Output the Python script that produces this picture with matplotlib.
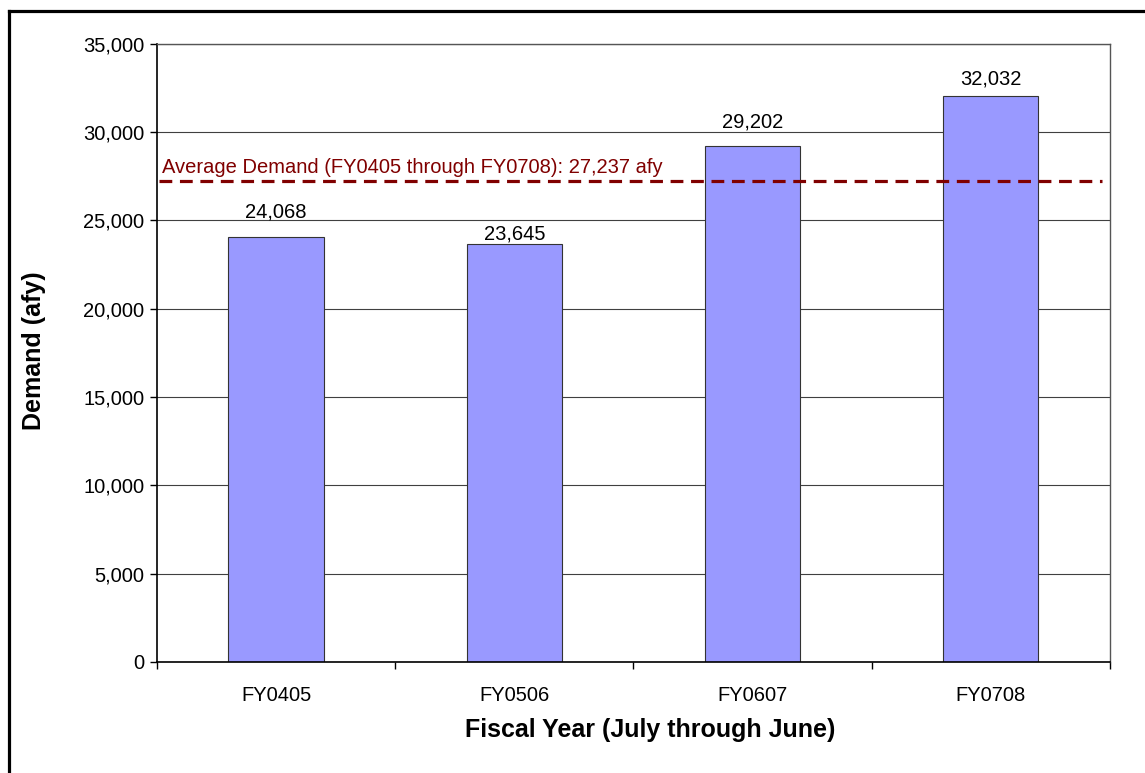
import matplotlib
matplotlib.use('Agg')
import matplotlib.pyplot as plt
from matplotlib.lines import Line2D
import numpy as np

plt.rcParams['font.family'] = ['Liberation Sans', 'DejaVu Sans']

# Annual demand (acre-feet per year)
years = ['FY0405', 'FY0506', 'FY0607', 'FY0708']
demand = [24068, 23645, 29202, 32032]
avg_demand = 27237
avg_label = 'Average Demand (FY0405 through FY0708): 27,237 afy'

# how far each value label sits above its bar (points), nudged off the gridlines
label_lift = [18, 7.5, 17.5, 12.5]

BAR_COLOR = '#9999FF'
AVG_COLOR = '#800000'

fig = plt.figure(figsize=(11.45, 7.73), dpi=100)
fig.patch.set_facecolor('white')
ax = fig.add_axes([0.1371, 0.1436, 0.8323, 0.8001])

x = np.arange(len(years))
ax.set_axisbelow(True)
ax.yaxis.grid(True, color='#404040', linewidth=0.8)
bars = ax.bar(x, demand, width=0.4, color=BAR_COLOR, edgecolor='#333333', linewidth=0.8, zorder=2)

for xi, v, lift in zip(x, demand, label_lift):
    ax.annotate(f'{v:,}', (xi, v), xytext=(0, lift), textcoords='offset points',
                ha='center', va='center', fontsize=14.5)

# average line across the plot
ax.axhline(avg_demand, xmin=0.002, xmax=0.992, color=AVG_COLOR, linewidth=2.3,
           linestyle=(0, (4, 2.4)), zorder=3)
ax.annotate(avg_label, (0.005, avg_demand), xycoords=('axes fraction', 'data'),
            xytext=(0, 3), textcoords='offset points',
            ha='left', va='bottom', fontsize=14.5, color=AVG_COLOR)

ax.set_xlim(-0.5, len(years) - 0.5)
ax.set_ylim(0, 35000)
ax.set_yticks(np.arange(0, 35001, 5000))
ax.yaxis.set_major_formatter(matplotlib.ticker.FuncFormatter(lambda v, p: f'{int(v):,}'))
ax.set_xticks(x)
ax.set_xticklabels(years)
ax.set_xticks(np.arange(-0.5, len(years), 1.0), minor=True)
ax.tick_params(axis='x', which='major', length=0, pad=17, labelsize=14.5)
ax.tick_params(axis='x', which='minor', length=5, width=1, direction='out')
ax.tick_params(axis='y', length=5, width=1, direction='out', labelsize=14.5, pad=4)

for side in ['left', 'bottom']:
    ax.spines[side].set_color('black')
    ax.spines[side].set_linewidth(1.2)
for side in ['top', 'right']:
    ax.spines[side].set_color('#555555')
    ax.spines[side].set_linewidth(1.0)

fig.text(650 / 1145, 1 - 730 / 773, 'Fiscal Year (July through June)',
         ha='center', va='center', fontsize=18, fontweight='bold')
fig.text(34 / 1145, 1 - 351 / 773, 'Demand (afy)', rotation=90,
         ha='center', va='center', fontsize=18, fontweight='bold')

# chart frame (left and top edges)
fig.add_artist(Line2D([8.5 / 1145, 8.5 / 1145], [0, 1 - 11 / 773], color='black', linewidth=2.3,
                      transform=fig.transFigure, solid_capstyle='projecting'))
fig.add_artist(Line2D([8.5 / 1145, 1], [1 - 11 / 773, 1 - 11 / 773], color='black', linewidth=2.3,
                      transform=fig.transFigure, solid_capstyle='projecting'))

fig.savefig('out.png', dpi=100, facecolor='white')
